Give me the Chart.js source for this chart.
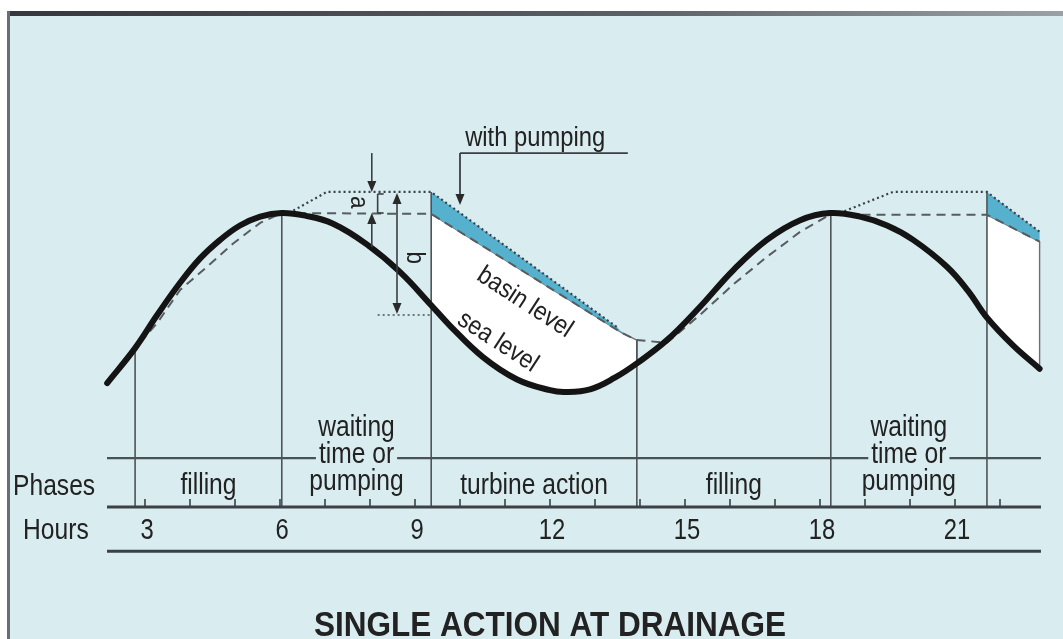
<!DOCTYPE html>
<html><head><meta charset="utf-8">
<script src="https://cdn.jsdelivr.net/npm/chart.js@4.4.0/dist/chart.umd.min.js"></script>
<style>
html,body{margin:0;padding:0;background:#fff;overflow:hidden}
#c{position:absolute;left:0;top:0}
</style></head><body>
<canvas id="c" width="1063" height="639"></canvas>
<script>
// ---------------- DATA ----------------
// sea level (solid thick curve); hours vs relative level (peak = 1)
const seaHours = [2.16, 2.78, 3.27, 3.78, 4.22, 4.67, 5.11, 5.56, 6.04, 6.56, 7.18, 7.93, 8.67, 9.36, 9.78, 10.51, 11.27, 12.0, 12.33, 12.89, 13.44, 13.93, 14.6, 15.33, 16.07, 16.82, 17.56, 18.22, 18.89, 19.49, 20.07, 20.82, 21.29, 21.71, 22.29, 22.88];
const seaLevel = [-0.90, -0.51, -0.14, 0.22, 0.49, 0.70, 0.86, 0.96, 1.00, 0.97, 0.88, 0.65, 0.34, -0.03, -0.26, -0.61, -0.86, -0.98, -1.00, -0.97, -0.84, -0.68, -0.42, -0.05, 0.36, 0.70, 0.92, 1.00, 0.96, 0.86, 0.70, 0.40, 0.13, -0.17, -0.48, -0.74];
// basin level (dashed)
const basinHours = [2.89, 3.27, 3.78, 4.38, 4.96, 5.56, 6.04, 9.36, 13.6, 13.93, 14.6, 15.33, 16.07, 16.82, 17.56, 18.22, 21.71, 22.88];
const basinLevel = [-0.45, -0.23, 0.14, 0.40, 0.66, 0.89, 1.00, 0.99, -0.34, -0.42, -0.45, -0.14, 0.20, 0.51, 0.79, 0.98, 0.98, 0.68];
// basin level with pumping (dotted)
const pumpHours1 = [6.2, 7.04, 9.36, 13.5];
const pumpLevel1 = [1.0, 1.235, 1.235, -0.28];
const pumpHours2 = [18.44, 19.62, 21.71, 22.88];
const pumpLevel2 = [1.0, 1.235, 1.235, 0.79];
// phase boundaries
const phaseBoundHours = [2.78, 6.04, 9.36, 13.93, 18.24, 21.71];
const phaseBoundTop = [-0.51, 1.0, 1.235, -0.42, 1.0, 1.235];
const phaseNames = [['filling'], ['waiting', 'time or', 'pumping'], ['turbine action'], ['filling'], ['waiting', 'time or', 'pumping']];
// hours axis
const hourTicks = [3, 4, 5, 6, 7, 8, 9, 10, 11, 12, 13, 14, 15, 16, 17, 18, 19, 20, 21, 22];
const hourLabels = ['3', '6', '9', '12', '15', '18', '21'];
const hourLabelValues = [3, 6, 9, 12, 15, 18, 21];
const rowNames = ['Phases', 'Hours'];
const title = 'SINGLE ACTION AT DRAINAGE';
const noteTexts = ['with pumping', 'basin level', 'sea level', 'a', 'b'];

// ---------------- BUILD ----------------
const pts = (hs, ls) => hs.map((h, i) => ({x: h, y: ls[i]}));
const inRange = (hs, ls, a, b) => pts(hs, ls).filter(p => p.x >= a - 1e-9 && p.x <= b + 1e-9);

const white1 = inRange(basinHours, basinLevel, 9.36, 13.93).concat(inRange(seaHours, seaLevel, 9.36, 13.93).reverse());
const white2 = inRange(basinHours, basinLevel, 21.71, 22.88).concat(inRange(seaHours, seaLevel, 21.71, 22.88).reverse());
const blue1 = inRange(pumpHours1, pumpLevel1, 9.36, 13.5).concat(inRange(basinHours, basinLevel, 9.36, 13.6).reverse());
const blue2 = inRange(pumpHours2, pumpLevel2, 21.71, 22.88).concat(inRange(basinHours, basinLevel, 21.71, 22.88).reverse());

const AXIS_LEVEL = -2.285;
const phaseLines = [];
phaseBoundHours.forEach((h, i) => {
  phaseLines.push({x: h, y: phaseBoundTop[i]}, {x: h, y: AXIS_LEVEL}, {x: h, y: null});
});

const BG = '#d9ecf0';
const INK = '#222222';

function txt(ctx, s, x, y, size, o) {
  o = o || {};
  ctx.save();
  ctx.translate(x, y);
  if (o.rot) ctx.rotate(o.rot);
  ctx.scale(o.sx || 0.82, 1);
  ctx.font = (o.bold ? 'bold ' : '') + size + 'px "Liberation Sans", Arial, sans-serif';
  ctx.fillStyle = o.color || INK;
  ctx.textAlign = o.align || 'center';
  ctx.textBaseline = o.base || 'alphabetic';
  ctx.fillText(s, 0, 0);
  ctx.restore();
}
function textW(ctx, s, size, sx) {
  ctx.save();
  ctx.font = size + 'px "Liberation Sans", Arial, sans-serif';
  const w = ctx.measureText(s).width * (sx || 0.82);
  ctx.restore();
  return w;
}
function line(ctx, x1, y1, x2, y2, w, c, dash) {
  ctx.save();
  ctx.beginPath();
  ctx.lineWidth = w; ctx.strokeStyle = c;
  ctx.setLineDash(dash || []);
  ctx.moveTo(x1, y1); ctx.lineTo(x2, y2); ctx.stroke();
  ctx.restore();
}
function arrowHead(ctx, x, y, dir, c) {
  ctx.save();
  ctx.fillStyle = c;
  ctx.beginPath();
  ctx.moveTo(x, y);
  ctx.lineTo(x - 4.5, y - dir * 11);
  ctx.lineTo(x + 4.5, y - dir * 11);
  ctx.closePath(); ctx.fill();
  ctx.restore();
}

const bgPlugin = {
  id: 'bg',
  beforeDraw(chart) {
    const ctx = chart.ctx;
    ctx.save();
    ctx.fillStyle = '#ffffff';
    ctx.fillRect(0, 0, chart.width, chart.height);
    ctx.fillStyle = BG;
    ctx.fillRect(8, 14, chart.width - 8, chart.height - 14);
    const g = ctx.createLinearGradient(8, 0, chart.width, 0);
    g.addColorStop(0, '#34373c'); g.addColorStop(0.6, '#5c6166'); g.addColorStop(1, '#9aa2a8');
    ctx.fillStyle = g;
    ctx.fillRect(8, 11, chart.width - 8, 5);
    ctx.fillStyle = '#6a6e72';
    ctx.fillRect(7, 11, 3, chart.height - 11);
    ctx.restore();
  }
};

const framePlugin = {
  id: 'frame',
  afterDatasetsDraw(chart) {
    const ctx = chart.ctx;
    const X = v => chart.scales.x.getPixelForValue(v);
    const Y = v => chart.scales.y.getPixelForValue(v);
    const xl = X(2.156), xr = X(22.91);
    const yPh = Y(-1.74), yAx = Y(AXIS_LEVEL), yBot = Y(-2.78);
    line(ctx, xl, yPh, xr, yPh, 2.2, '#4a5256');
    line(ctx, xl, yAx, xr, yAx, 3, '#3a4246');
    line(ctx, xl, yBot, xr, yBot, 3, '#3a4246');
    hourTicks.forEach(h => line(ctx, X(h), yAx, X(h), yAx - 8, 1.6, '#3a4246'));
    hourLabels.forEach((s, i) => txt(ctx, s, X(hourLabelValues[i]) + 2, Y(-2.64), 29));
    txt(ctx, rowNames[0], X(0.98), Y(-2.15), 30);
    txt(ctx, rowNames[1], X(1.02), Y(-2.64), 30);
    phaseNames.forEach((lines, i) => {
      const a = phaseBoundHours[i], b = i + 1 < phaseBoundHours.length ? phaseBoundHours[i + 1] : 22.91;
      const cx = X((a + b) / 2);
      if (lines.length === 1) {
        txt(ctx, lines[0], cx, Y(-2.14), 30);
      } else {
        const w = textW(ctx, lines[1], 30);
        ctx.save(); ctx.fillStyle = BG; ctx.fillRect(cx - w / 2 - 3, yPh - 4, w + 6, 8); ctx.restore();
        txt(ctx, lines[0], cx, Y(-1.49), 30);
        txt(ctx, lines[1], cx, Y(-1.795), 30);
        txt(ctx, lines[2], cx, Y(-2.09), 30);
      }
    });
    txt(ctx, title, X(12.0), Y(-3.73), 35, {bold: true, sx: 0.9, color: '#222222'});

    // with pumping
    txt(ctx, noteTexts[0], X(11.67), Y(1.75), 27, {sx: 0.88});
    const lx = X(10.0), ly = Y(1.67);
    line(ctx, lx, ly, X(13.73), ly, 1.8, '#3a3f44');
    line(ctx, lx, ly, lx, Y(1.09) - 8, 1.8, '#3a3f44');
    arrowHead(ctx, lx, Y(1.09), 1, '#2a2a2a');
    // a dimension
    const ax = X(8.04);
    line(ctx, ax, Y(1.67), ax, Y(1.235) - 8, 1.6, '#3a3f44');
    arrowHead(ctx, ax, Y(1.235), 1, '#2a2a2a');
    line(ctx, ax, Y(0.62), ax, Y(1.0) + 8, 1.6, '#3a3f44');
    arrowHead(ctx, ax, Y(1.0), -1, '#2a2a2a');
    txt(ctx, noteTexts[3], X(7.74), Y(1.12), 25, {rot: Math.PI / 2, sx: 0.9, base: 'middle'});
    const bx0 = X(8.17);
    line(ctx, bx0, Y(1.235) + 2, bx0, Y(1.0), 1.6, '#3a3f44');
    line(ctx, bx0, Y(1.235) + 2, bx0 + 6, Y(1.235) + 2, 1.6, '#3a3f44');
    line(ctx, bx0, Y(1.0), bx0 + 6, Y(1.0), 1.6, '#3a3f44');
    // b dimension
    const bx = X(8.6);
    line(ctx, bx, Y(1.235) + 8, bx, Y(-0.14) - 8, 1.6, '#3a3f44');
    arrowHead(ctx, bx, Y(1.235) + 1, -1, '#2a2a2a');
    arrowHead(ctx, bx, Y(-0.14) - 1, 1, '#2a2a2a');
    txt(ctx, noteTexts[4], X(8.98), Y(0.5), 25, {rot: Math.PI / 2, sx: 0.9, base: 'middle'});
    line(ctx, X(8.17), Y(-0.14), X(9.36), Y(-0.14), 1.6, '#4a5055', [2, 3]);
    // rotated level labels
    const ang = 33 * Math.PI / 180;
    txt(ctx, noteTexts[1], X(11.44), Y(0.0), 26, {rot: ang, sx: 0.88, base: 'middle'});
    txt(ctx, noteTexts[2], X(10.84), Y(-0.44), 26, {rot: ang, sx: 0.88, base: 'middle'});
  }
};

new Chart(document.getElementById('c'), {
  type: 'scatter',
  data: {
    datasets: [
      {label: 'sea level', data: pts(seaHours, seaLevel), showLine: true, borderColor: '#141414', borderWidth: 6,
       tension: 0.4, pointRadius: 0, fill: false, order: 0, borderCapStyle: 'round', borderJoinStyle: 'round'},
      {label: 'basin level', data: pts(basinHours, basinLevel), showLine: true, borderColor: '#565c60', borderWidth: 2,
       borderDash: [9, 6], pointRadius: 0, fill: false, order: 1, tension: 0},
      {label: 'with pumping 1', data: pts(pumpHours1, pumpLevel1), showLine: true, borderColor: '#3b4045', borderWidth: 2.2,
       borderDash: [2, 3], pointRadius: 0, fill: false, order: 2},
      {label: 'with pumping 2', data: pts(pumpHours2, pumpLevel2), showLine: true, borderColor: '#3b4045', borderWidth: 2.2,
       borderDash: [2, 3], pointRadius: 0, fill: false, order: 2},
      {label: 'phase bounds', data: phaseLines, showLine: true, spanGaps: false, borderColor: '#4e5458', borderWidth: 1.6,
       pointRadius: 0, fill: false, order: 3},
      {label: 'pump gain 1', data: blue1, showLine: true, borderWidth: 0, borderColor: 'rgba(0,0,0,0)',
       backgroundColor: '#55b1cd', fill: 'shape', pointRadius: 0, order: 4},
      {label: 'pump gain 2', data: blue2, showLine: true, borderWidth: 0, borderColor: 'rgba(0,0,0,0)',
       backgroundColor: '#55b1cd', fill: 'shape', pointRadius: 0, order: 4},
      {label: 'head 1', data: white1, showLine: true, borderWidth: 1.4, borderColor: '#6a7074', tension: 0,
       backgroundColor: '#ffffff', fill: 'shape', pointRadius: 0, order: 5},
      {label: 'head 2', data: white2, showLine: true, borderWidth: 1.4, borderColor: '#6a7074',
       backgroundColor: '#ffffff', fill: 'shape', pointRadius: 0, order: 5}
    ]
  },
  options: {
    responsive: false, animation: false, devicePixelRatio: 1,
    layout: {padding: 0},
    plugins: {legend: {display: false}, tooltip: {enabled: false}},
    scales: {
      x: {type: 'linear', min: -0.222, max: 23.4, display: false},
      y: {type: 'linear', min: -3.76, max: 3.38, display: false}
    },
    elements: {point: {radius: 0}}
  },
  plugins: [bgPlugin, framePlugin]
});
</script>
</body></html>
